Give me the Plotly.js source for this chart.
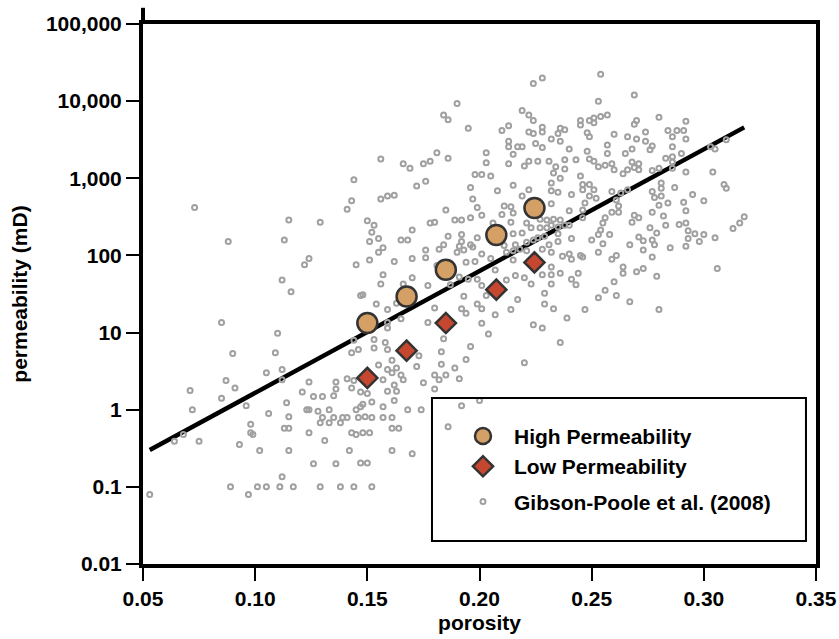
<!DOCTYPE html>
<html><head><meta charset="utf-8">
<script src="https://cdn.plot.ly/plotly-3.0.1.min.js"></script>
<style>html,body{margin:0;padding:0;background:#fff;}#chart{width:839px;height:639px;}</style>
</head><body><div id="chart"></div>
<script>
// ---- Gibson-Poole et al. (2008) data: porosity and log10(permeability, mD) ----
const gpPorosityA = [0.073,0.088,0.115,0.129,0.113,0.144,0.143,0.141,0.124,0.122,
 0.145,0.112,0.116,0.147,0.085,0.110,0.090,0.109,0.144,0.146,
 0.143,0.071,0.087,0.091,0.105,0.112,0.112,0.085,0.072,0.096,
 0.106,0.114,0.124,0.121,0.126,0.130,0.135,0.136,0.136,0.141,
 0.144,0.143,0.147,0.123,0.124,0.128,0.133,0.130,0.135,0.139,
 0.141,0.129,0.133,0.138,0.145,0.147,0.146,0.115,0.098,0.098,
 0.099,0.113,0.115,0.124,0.131,0.143,0.145,0.148,0.068,0.064,
 0.075,0.093,0.102,0.115,0.142,0.126,0.136,0.147,0.112,0.089,
 0.101,0.105,0.111,0.117,0.129,0.138,0.144,0.097,0.053];
const gpLogPermA = [2.62,2.18,2.46,2.43,2.20,2.98,2.71,2.60,1.96,1.88,
 1.88,1.68,1.53,1.48,1.13,0.99,0.73,0.74,0.90,0.78,
 0.74,0.25,0.38,0.28,0.48,0.52,0.39,0.15,0.00,0.05,
 -0.05,0.09,0.36,0.23,0.17,0.17,0.18,0.36,0.27,0.40,
 0.38,0.28,0.23,0.00,0.00,-0.02,0.00,-0.10,-0.10,-0.10,
 -0.10,-0.17,-0.17,-0.17,0.00,0.04,-0.10,-0.09,-0.19,-0.30,
 -0.32,-0.24,-0.24,-0.30,-0.40,-0.30,-0.32,-0.30,-0.32,-0.41,
 -0.41,-0.45,-0.53,-0.53,-0.53,-0.70,-0.70,-0.69,-0.87,-1.00,
 -1.00,-1.00,-1.00,-1.00,-1.00,-1.00,-1.00,-1.10,-1.10];

const gpPorosityB = [0.224,0.228,0.190,0.184,0.186,0.219,0.222,0.224,0.195,0.210,
 0.213,0.222,0.224,0.228,0.228,0.236,0.238,0.235,0.232,0.236,
 0.213,0.213,0.217,0.219,0.225,0.228,0.240,0.203,0.215,0.181,
 0.186,0.156,0.166,0.169,0.175,0.178,0.203,0.213,0.220,0.222,
 0.226,0.231,0.238,0.234,0.233,0.238,0.198,0.201,0.205,0.236,
 0.172,0.176,0.196,0.215,0.232,0.208,0.222,0.232,0.235,0.241,
 0.156,0.159,0.162,0.197,0.219,0.199,0.211,0.214,0.232,0.240,
 0.185,0.201,0.210,0.215,0.150,0.178,0.180,0.189,0.192,0.196,
 0.214,0.221,0.227,0.230,0.233,0.236,0.240,0.153,0.152,0.155,
 0.151,0.170,0.165,0.168,0.186,0.192,0.199,0.206,0.209,0.215,
 0.219,0.223,0.227,0.230,0.232,0.235,0.238,0.226,0.235,0.184,
 0.192,0.191,0.196,0.197,0.201,0.211,0.216,0.221,0.224,0.229,
 0.231,0.235,0.241,0.155,0.157,0.151,0.162,0.170,0.176,0.176,
 0.182,0.190,0.193,0.194,0.198,0.205,0.212,0.215,0.218,0.221,
 0.215,0.228,0.232,0.237,0.240,0.241,0.236,0.232,0.157,0.170,
 0.207,0.216,0.220,0.212,0.181];
const gpLogPermB = [4.23,4.30,3.97,3.82,3.76,3.88,3.82,3.75,3.65,3.62,
 3.68,3.60,3.58,3.66,3.60,3.65,3.63,3.58,3.51,3.48,
 3.48,3.41,3.41,3.41,3.45,3.40,3.38,3.33,3.31,3.33,
 3.26,3.25,3.19,3.13,3.19,3.22,3.20,3.19,3.16,3.22,
 3.22,3.22,3.24,3.15,3.07,3.12,3.05,3.05,3.03,3.00,
 2.90,2.96,2.88,2.91,2.94,2.84,2.85,2.84,2.82,2.79,
 2.73,2.77,2.78,2.73,2.77,2.62,2.64,2.63,2.67,2.58,
 2.59,2.52,2.53,2.55,2.45,2.42,2.43,2.46,2.46,2.49,
 2.43,2.42,2.47,2.46,2.47,2.46,2.39,2.39,2.30,2.22,
 2.18,2.33,2.20,2.20,2.25,2.27,2.23,2.42,2.31,2.28,
 2.29,2.36,2.36,2.36,2.39,2.37,2.39,2.23,2.28,2.14,
 2.18,2.12,2.14,2.11,2.02,2.13,2.14,2.17,2.20,2.25,
 2.14,2.18,2.22,2.04,2.10,1.94,1.92,1.96,2.07,1.97,
 2.08,2.04,2.07,1.91,1.92,1.96,2.04,2.06,2.08,2.06,
 1.94,2.08,2.04,1.99,2.02,1.95,1.77,1.85,1.75,1.71,
 1.81,1.74,1.71,1.68,1.87];

const gpPorosityC = [0.191,0.195,0.199,0.228,0.232,0.241,0.156,0.166,0.177,0.187,
 0.201,0.223,0.232,0.243,0.148,0.154,0.159,0.163,0.165,0.159,
 0.159,0.180,0.177,0.192,0.194,0.193,0.199,0.201,0.201,0.207,
 0.214,0.217,0.203,0.229,0.229,0.233,0.239,0.224,0.228,0.204,
 0.184,0.236,0.153,0.158,0.153,0.159,0.196,0.183,0.173,0.194,
 0.220,0.161,0.155,0.172,0.183,0.189,0.159,0.163,0.161,0.165,
 0.166,0.157,0.180,0.182,0.185,0.191,0.175,0.162,0.180,0.159,
 0.163,0.150,0.162,0.152,0.148,0.157,0.168,0.174,0.192,0.200,
 0.149,0.152,0.157,0.161,0.161,0.164,0.186,0.151,0.161,0.170,
 0.150,0.152];
const gpLogPermC = [1.72,1.69,1.69,1.75,1.75,1.69,1.63,1.63,1.61,1.62,
 1.61,1.63,1.63,1.62,1.49,1.37,1.30,1.38,1.18,1.13,
 1.06,1.32,1.13,1.31,1.25,1.47,1.37,1.31,1.12,1.23,
 1.30,1.43,1.48,1.51,1.37,1.31,1.19,1.10,1.06,0.98,
 0.92,0.87,0.91,0.87,0.80,0.78,0.82,0.75,0.70,0.65,
 0.61,0.64,0.58,0.56,0.59,0.54,0.52,0.54,0.48,0.45,
 0.39,0.39,0.45,0.39,0.45,0.40,0.35,0.32,0.27,0.24,
 0.24,0.21,0.12,0.10,0.07,0.04,0.00,0.00,0.05,0.12,
 -0.09,-0.10,-0.10,-0.10,-0.24,-0.24,-0.22,-0.30,-0.53,-0.57,
 -0.69,-1.00];

const gpPorosityD = [0.254,0.269,0.253,0.245,0.245,0.249,0.251,0.251,0.254,0.257,
 0.270,0.269,0.280,0.292,0.248,0.249,0.260,0.266,0.270,0.274,
 0.284,0.288,0.291,0.286,0.292,0.274,0.277,0.276,0.286,0.257,
 0.248,0.268,0.265,0.257,0.249,0.251,0.243,0.253,0.256,0.259,
 0.260,0.264,0.266,0.268,0.271,0.271,0.269,0.277,0.280,0.283,
 0.286,0.286,0.286,0.290,0.292,0.303,0.305,0.310,0.304,0.245,
 0.246,0.249,0.246,0.251,0.249,0.252,0.259,0.263,0.266,0.261,
 0.262,0.262,0.259,0.247,0.246,0.246,0.256,0.255,0.281,0.281,
 0.277,0.278,0.281,0.280,0.284,0.277,0.287,0.295,0.300,0.291,
 0.292,0.309,0.310,0.269,0.271,0.268,0.282,0.283,0.289,0.292,
 0.276,0.279,0.293,0.296,0.300,0.293,0.298,0.305,0.313,0.316,
 0.318,0.254,0.253,0.258,0.250,0.255,0.271,0.273,0.267,0.277,
 0.278,0.273,0.285,0.292,0.253,0.245,0.246,0.259,0.261,0.277,
 0.264,0.264,0.270,0.273,0.279,0.306,0.244,0.260,0.256,0.253,
 0.261,0.267,0.247,0.280];
const gpLogPermD = [4.35,4.08,4.00,3.75,3.69,3.75,3.72,3.78,3.80,3.82,
 3.75,3.70,3.79,3.74,3.59,3.54,3.57,3.54,3.51,3.60,
 3.62,3.62,3.62,3.54,3.51,3.48,3.42,3.37,3.41,3.43,
 3.35,3.38,3.32,3.32,3.25,3.22,3.24,3.15,3.17,3.19,
 3.11,3.06,3.11,3.21,3.19,3.11,3.14,3.10,3.13,3.26,
 3.28,3.13,3.21,3.32,3.08,3.41,3.38,3.50,3.08,3.03,
 2.92,2.92,2.85,2.85,2.77,2.74,2.83,2.81,2.85,2.72,
 2.64,2.56,2.56,2.68,2.59,2.49,2.49,2.42,2.94,2.87,
 2.83,2.75,2.77,2.65,2.68,2.56,2.88,2.79,2.71,2.69,
 2.58,2.92,2.87,2.52,2.49,2.43,2.51,2.39,2.40,2.42,
 2.36,2.29,2.32,2.28,2.27,2.22,2.18,2.23,2.35,2.42,
 2.50,2.33,2.27,2.27,2.20,2.15,2.24,2.19,2.14,2.20,
 2.14,2.07,2.10,2.12,2.04,2.00,1.98,1.95,2.00,1.98,
 1.85,1.77,1.79,1.83,1.73,1.83,1.77,1.66,1.55,1.45,
 1.48,1.40,1.30,1.30];

// ---- Sample groups ----
const highPorosity = [0.150, 0.1675, 0.185, 0.2075, 0.2245];
const highPerm     = [13.3, 29.4, 65.3, 184, 412];
const lowPorosity  = [0.150, 0.1675, 0.185, 0.2075, 0.2245];
const lowPerm      = [2.58, 5.82, 13.3, 36, 81.2];

// ---- Trend line ----
const fitPorosity = [0.053, 0.318];
const fitPerm     = [0.30, 4570];

// ---- Axis ticks ----
const yTickVals = [0.01, 0.1, 1, 10, 100, 1000, 10000, 100000];
const yTickText = ['0.01', '0.1', '1', '10', '100', '1,000', '10,000', '100,000'];
const xTickVals = [0.05, 0.10, 0.15, 0.20, 0.25, 0.30, 0.35];
const xTickText = ['0.05', '0.10', '0.15', '0.20', '0.25', '0.30', '0.35'];

const gpPorosity = gpPorosityA.concat(gpPorosityB, gpPorosityC, gpPorosityD);
const gpPerm = gpLogPermA.concat(gpLogPermB, gpLogPermC, gpLogPermD).map(v => Math.pow(10, v));

const FONT = 'Liberation Sans, Arial, Helvetica, sans-serif';
const bold21 = {family: FONT, size: 21, color: '#000', weight: 'bold'};

const traces = [
  {x: fitPorosity, y: fitPerm, type: 'scatter', mode: 'lines',
   line: {color: '#000', width: 4.5}, showlegend: false, hoverinfo: 'skip'},
  {x: gpPorosity, y: gpPerm, type: 'scatter', mode: 'markers', name: 'Gibson-Poole et al. (2008)',
   marker: {symbol: 'circle-open', size: 5, color: '#a0a0a0', line: {width: 2, color: '#a0a0a0'}},
   legendgroup: 'b', legendrank: 3},
  {x: highPorosity, y: highPerm, type: 'scatter', mode: 'markers', name: 'High Permeability',
   marker: {symbol: 'circle', size: 20, color: '#d5a065', line: {width: 2.5, color: '#333'}},
   legendgroup: 'a', legendrank: 1},
  {x: lowPorosity, y: lowPerm, type: 'scatter', mode: 'markers', name: 'Low Permeability',
   marker: {symbol: 'diamond', size: 15.5, color: '#c5472f', line: {width: 2.5, color: '#333'}},
   legendgroup: 'a', legendrank: 2}
];

const layout = {
  width: 839, height: 639,
  margin: {l: 143, r: 23, t: 24, b: 75},
  paper_bgcolor: '#fff', plot_bgcolor: '#fff',
  font: bold21,
  showlegend: true,
  legend: {x: 0.4591, xanchor: 'left', y: 0.2744, yanchor: 'top',
    bgcolor: 'rgba(0,0,0,0)', borderwidth: 0, itemwidth: 52,
    traceorder: 'grouped', tracegroupgap: 5,
    font: bold21},
  xaxis: {range: [0.05, 0.35], tickvals: xTickVals, ticktext: xTickText,
    ticks: 'outside', ticklen: 13, tickwidth: 2, tickcolor: '#000',
    showline: true, linewidth: 4, linecolor: '#000', mirror: true,
    showgrid: false, zeroline: false,
    tickfont: bold21,
    title: {text: 'porosity', standoff: 7, font: bold21}},
  yaxis: {type: 'log', range: [-2, 5], tickvals: yTickVals, ticktext: yTickText,
    ticks: 'outside', ticklen: 13, tickwidth: 2, tickcolor: '#000',
    showline: true, linewidth: 4, linecolor: '#000', mirror: true,
    showgrid: false, zeroline: false,
    tickfont: bold21,
    title: {text: 'permeability (mD)', standoff: 14, font: bold21}},
  shapes: [
    {type: 'rect', xref: 'paper', yref: 'paper', x0: 0.4294, x1: 0.9851, y0: 0.0426, y1: 0.3074,
     line: {color: '#000', width: 2}, fillcolor: 'rgba(0,0,0,0)'},
    {type: 'line', xref: 'paper', yref: 'paper', x0: 0, x1: 0, y0: 1, y1: 1.03,
     line: {color: '#000', width: 4}}
  ]
};

Plotly.newPlot('chart', traces, layout, {displayModeBar: false, staticPlot: true});
</script>
</body></html>
